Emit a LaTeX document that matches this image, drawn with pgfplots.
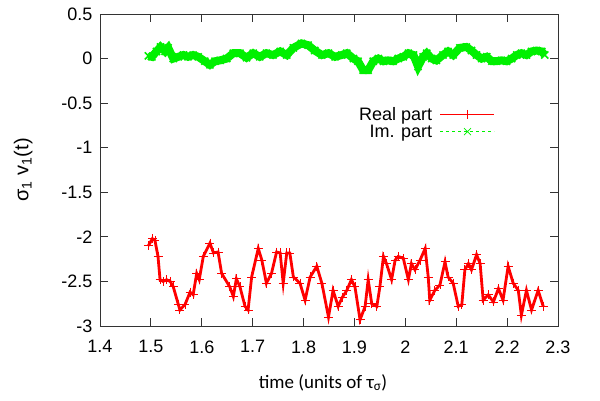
\documentclass[border=0pt]{standalone}
\usepackage{pgfplots}
\pgfplotsset{compat=1.18}
\usepackage{fontspec}
\setmainfont{Liberation Sans}
\newfontfamily\labfont{Carlito}
\definecolor{gpred}{RGB}{255,0,0}
\definecolor{gpgreen}{RGB}{0,240,0}
\begin{document}
\begin{tikzpicture}[x=1pt,y=1pt]
\path[use as bounding box] (0,0) rectangle (600,400);
\begin{axis}[
  at={(100pt,74pt)}, anchor=south west,
  width=458pt, height=312pt, scale only axis,
  xmin=1.4, xmax=2.3, ymin=-3, ymax=0.5,
  xtick={1.4,1.5,1.6,1.7,1.8,1.9,2.0,2.1,2.2,2.3},
  ytick={-3,-2.5,-2,-1.5,-1,-0.5,0,0.5},
  minor tick num=0,
  tick align=inside, major tick length=8pt,
  axis line style={black!80, line width=0.9pt},
  every tick/.style={black!80, line width=0.9pt},
  tick label style={font=\fontsize{18}{21}\selectfont},
  /pgf/number format/assume math mode=true,
  xticklabel style={yshift=-11pt},
  yticklabel style={xshift=-4pt},
  xlabel={\labfont time (units of τ\textsubscript{σ})},
  xlabel style={font=\fontsize{19}{22}\selectfont, yshift=-14pt, xshift=-6pt},
  ylabel={σ\textsubscript{1} v\textsubscript{1}(t)},
  ylabel style={font=\fontsize{20}{23}\selectfont, yshift=22pt},
  legend style={at={(rel axis cs:0.869,0.715)}, anchor=north east, draw=none, fill=none,
    font=\fontsize{18}{21}\selectfont, row sep=-1pt,
    /tikz/every odd column/.append style={column sep=6pt}},
  legend cell align=right,
  legend plot pos=right,
  legend image code/.code={\draw[mark repeat=2,mark phase=2] plot coordinates {(0pt,0pt)(27pt,0pt)(54pt,0pt)};},
]
\addplot[color=red, line width=2.8pt, mark=+, mark size=4.5pt, mark options={solid, line width=0.8pt},
  legend image post style={line width=0.6pt, mark options={line width=0.6pt}}] coordinates {
(1.495,-2.10) (1.503,-2.02) (1.508,-2.04) (1.514,-2.22) (1.518,-2.48) (1.524,-2.50)
(1.531,-2.48) (1.538,-2.50) (1.544,-2.56) (1.554,-2.76) (1.557,-2.82) (1.567,-2.76)
(1.577,-2.62) (1.583,-2.65) (1.590,-2.41) (1.595,-2.48) (1.603,-2.22) (1.616,-2.07)
(1.623,-2.18) (1.632,-2.17) (1.639,-2.41) (1.655,-2.56) (1.662,-2.67) (1.668,-2.47)
(1.675,-2.56) (1.685,-2.78) (1.691,-2.82) (1.698,-2.45) (1.711,-2.13) (1.718,-2.26)
(1.727,-2.52) (1.737,-2.41) (1.747,-2.17) (1.754,-2.18) (1.760,-2.52) (1.767,-2.18)
(1.773,-2.18) (1.780,-2.45) (1.793,-2.52) (1.803,-2.71) (1.813,-2.45) (1.826,-2.33)
(1.836,-2.52) (1.849,-2.90) (1.858,-2.60) (1.868,-2.78) (1.876,-2.68) (1.885,-2.60)
(1.894,-2.48) (1.901,-2.56) (1.911,-2.93) (1.921,-2.78) (1.927,-2.48) (1.934,-2.75)
(1.944,-2.78) (1.950,-2.56) (1.957,-2.22) (1.963,-2.30) (1.973,-2.48) (1.980,-2.26)
(1.986,-2.22) (1.996,-2.24) (2.006,-2.48) (2.012,-2.30) (2.019,-2.37) (2.029,-2.26)
(2.039,-2.13) (2.045,-2.45) (2.048,-2.71) (2.058,-2.60) (2.068,-2.54) (2.078,-2.28)
(2.084,-2.45) (2.094,-2.52) (2.104,-2.78) (2.111,-2.76) (2.117,-2.37) (2.124,-2.30)
(2.130,-2.37) (2.140,-2.20) (2.147,-2.30) (2.153,-2.71) (2.163,-2.65) (2.173,-2.73)
(2.183,-2.58) (2.192,-2.71) (2.202,-2.33) (2.212,-2.52) (2.222,-2.60) (2.228,-2.88)
(2.238,-2.60) (2.248,-2.82) (2.261,-2.60) (2.271,-2.78)
};
\addlegendentry{Real part}
\addplot[color=gpgreen, line width=8pt, mark=x, mark size=5pt, mark options={solid, line width=1.6pt},
  legend image post style={dashed, line width=0.6pt, mark options={solid, line width=0.6pt}}] coordinates {
(1.495,0.03) (1.502,0.02) (1.511,0.08) (1.519,0.13) (1.528,0.08) (1.534,0.12)
(1.544,0.00) (1.554,0.02) (1.564,0.04) (1.573,0.02) (1.583,0.04) (1.593,0.02)
(1.606,-0.03) (1.616,-0.07) (1.626,-0.03) (1.636,-0.02) (1.649,0.00) (1.662,0.06)
(1.675,0.06) (1.688,0.01) (1.701,0.06) (1.714,0.02) (1.727,0.06) (1.740,0.04)
(1.754,0.08) (1.767,0.04) (1.780,0.12) (1.796,0.17) (1.809,0.15) (1.822,0.09)
(1.836,0.04) (1.849,0.06) (1.862,0.02) (1.875,0.04) (1.885,0.06) (1.898,0.00)
(1.907,-0.03) (1.917,-0.13) (1.927,-0.13) (1.937,-0.03) (1.947,0.00) (1.957,-0.03)
(1.966,-0.02) (1.976,-0.03) (1.986,0.00) (1.996,0.02) (2.006,0.06) (2.016,0.04)
(2.025,-0.09) (2.035,0.02) (2.042,0.06) (2.052,0.00) (2.061,-0.02) (2.074,0.04)
(2.084,0.08) (2.094,0.04) (2.107,0.12) (2.120,0.13) (2.130,0.09) (2.140,0.04)
(2.150,0.00) (2.160,0.02) (2.170,-0.03) (2.179,-0.03) (2.189,-0.02) (2.199,-0.03)
(2.209,0.00) (2.219,0.04) (2.228,0.06) (2.238,0.04) (2.248,0.08) (2.258,0.09)
(2.268,0.08) (2.274,0.04)
};
\addlegendentry{Im. part}
\end{axis}
\end{tikzpicture}
\end{document}
